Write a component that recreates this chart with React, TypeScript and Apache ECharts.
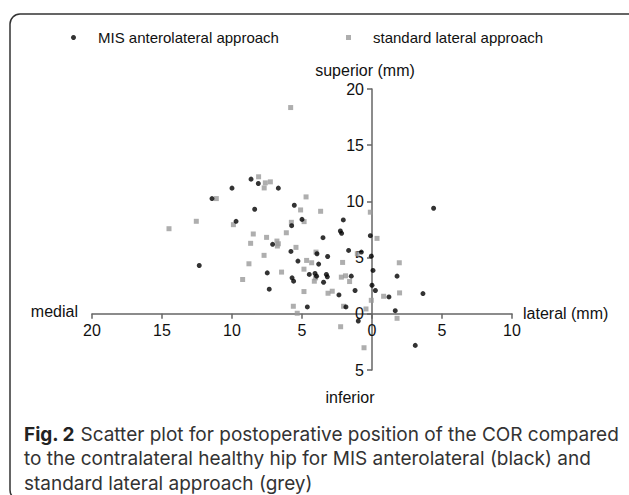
import React, { useEffect, useRef } from "react";
import * as echarts from "echarts";

// medial is negative x (shown as absolute value), inferior is negative y
const misPoints: [number, number][] = [
  [-8.64, 11.98], [-8.12, 11.59], [-10.0, 11.18], [-6.69, 11.18], [-11.43, 10.25],
  [-5.55, 9.66], [-8.38, 9.3], [-9.71, 8.23], [-5.74, 7.84], [-5.0, 8.4],
  [-2.05, 8.35], [-2.26, 7.37], [-2.17, 7.16], [-3.5, 6.77], [-7.1, 6.18],
  [-1.67, 5.64], [-5.79, 5.55], [-3.93, 5.34], [-3.17, 5.1], [-5.29, 4.69],
  [-3.81, 4.42], [-12.34, 4.3], [-7.48, 3.64], [-4.48, 3.5], [-4.07, 3.59],
  [-3.96, 3.35], [-3.26, 3.5], [-3.19, 3.29], [-3.46, 2.81], [-5.71, 3.2],
  [-5.6, 2.9], [-7.34, 2.19], [-2.36, 1.68], [-4.62, 0.61], [-1.86, 0.61],
  [-0.12, 6.95], [-0.76, 5.49], [-0.05, 5.13], [-1.48, 3.35], [0.07, 3.86],
  [1.79, 3.35], [0.0, 2.54], [0.24, 2.07], [-1.21, 2.07], [1.21, 1.5],
  [3.64, 1.8], [1.66, 0.28], [-0.98, -0.64], [3.09, -2.81], [4.4, 9.39],
];

const stdPoints: [number, number][] = [
  [-5.81, 18.35], [-8.1, 12.19], [-7.62, 11.65], [-7.26, 11.74], [-7.7, 11.2],
  [-11.12, 10.25], [-4.71, 10.4], [-5.1, 9.24], [-3.67, 9.12], [-12.55, 8.23],
  [-14.5, 7.57], [-9.9, 7.93], [-5.76, 8.14], [-4.85, 8.2], [-6.12, 7.21],
  [-8.48, 7.1], [-7.53, 6.8], [-6.79, 6.47], [-6.69, 6.23], [-6.76, 6.03],
  [-8.67, 6.27], [-5.43, 5.91], [-4.0, 5.49], [-7.71, 5.2], [-4.67, 4.75],
  [-4.31, 4.54], [-8.79, 4.45], [-2.1, 4.57], [-4.86, 3.97], [-6.46, 3.71],
  [-4.03, 3.2], [-4.12, 2.9], [-2.19, 3.26], [-1.89, 3.38], [-9.24, 3.05],
  [-4.86, 1.98], [-3.14, 1.83], [-2.84, 2.01], [-5.62, 0.67], [-5.34, 0.05],
  [-2.03, 0.67], [-0.12, 9.04], [0.36, 6.71], [-1.05, 5.34], [1.95, 4.54],
  [-1.6, 2.87], [0.83, 1.56], [1.97, 1.86], [-0.05, 1.2], [-0.43, 0.43],
  [1.79, -0.4], [-2.24, -1.15], [-0.57, -3.02],
];

const seriesNames = ["MIS anterolateral approach", "standard lateral approach"];
const xRange = [-20, 10];
const yRange = [-5, 20];
const tickStep = 5;
const captionLines = [
  "Scatter plot for postoperative position of the COR compared",
  "to the contralateral healthy hip for MIS anterolateral (black) and",
  "standard lateral approach (grey)",
];

const AXIS_COLOR = "#666666";
const LABEL_FONT = "Liberation Sans, Arial, sans-serif";
const CAPTION_FONT = "Inter, 'Open Sans', sans-serif";

const GRID = { left: 92, right: 117, top: 89, bottom: 125 };
const W = 629;
const H = 495;

export default function App() {
  const ref = useRef<HTMLDivElement>(null);

  useEffect(() => {
    if (!ref.current) return;
    const chart = echarts.init(ref.current, undefined, { renderer: "svg" });

    // place the axes through the origin by offsetting them from the grid edges
    const plotW = W - GRID.left - GRID.right;
    const plotH = H - GRID.top - GRID.bottom;
    const zeroX = GRID.left + ((0 - xRange[0]) / (xRange[1] - xRange[0])) * plotW;
    const zeroY = GRID.top + ((yRange[1] - 0) / (yRange[1] - yRange[0])) * plotH;
    const xAxisOffset = -(H - GRID.bottom - zeroY);
    const yAxisOffset = -(zeroX - GRID.left);

    const labelStyle = { fontFamily: LABEL_FONT, fontSize: 16, color: "#111" };

    const option: any = {
      animation: false,
      backgroundColor: "#ffffff",
      grid: { ...GRID, containLabel: false },
      legend: [
        {
          data: [{ name: seriesNames[0], icon: "circle" }],
          left: 71,
          top: 30,
          padding: 0,
          itemWidth: 5,
          itemHeight: 5,
          textStyle: { fontFamily: LABEL_FONT, fontSize: 15, color: "#111", padding: [0, 0, 0, 17] },
        },
        {
          data: [{ name: seriesNames[1], icon: "rect" }],
          left: 346,
          top: 30,
          padding: 0,
          itemWidth: 5,
          itemHeight: 5,
          textStyle: { fontFamily: LABEL_FONT, fontSize: 15, color: "#111", padding: [0, 0, 0, 17] },
        },
      ],
      xAxis: {
        type: "value",
        position: "bottom",
        offset: xAxisOffset,
        min: xRange[0],
        max: xRange[1],
        interval: tickStep,
        name: "lateral (mm)",
        nameLocation: "end",
        nameGap: 11,
        nameTextStyle: labelStyle,
        splitLine: { show: false },
        axisLine: { onZero: false, lineStyle: { color: AXIS_COLOR, width: 1.5 } },
        axisTick: { length: 5, lineStyle: { color: AXIS_COLOR, width: 1.5 } },
        axisLabel: {
          ...labelStyle,
          margin: 9,
          formatter: (v: number) => String(Math.abs(v)),
        },
      },
      yAxis: {
        type: "value",
        position: "left",
        offset: yAxisOffset,
        min: yRange[0],
        max: yRange[1],
        interval: tickStep,
        splitLine: { show: false },
        axisLine: { onZero: false, lineStyle: { color: AXIS_COLOR, width: 1.5 } },
        axisTick: { length: 5, lineStyle: { color: AXIS_COLOR, width: 1.5 } },
        axisLabel: {
          ...labelStyle,
          margin: 8,
          formatter: (v: number) => String(Math.abs(v)),
        },
      },
      series: [
        {
          name: seriesNames[0],
          type: "scatter",
          symbol: "circle",
          symbolSize: 5,
          itemStyle: { color: "#000000" },
          data: misPoints,
          z: 3,
        },
        {
          name: seriesNames[1],
          type: "scatter",
          symbol: "rect",
          symbolSize: 5,
          itemStyle: { color: "#9a9a9a" },
          data: stdPoints,
          z: 2,
        },
      ],
    };
    chart.setOption(option);

    const origin = chart.convertToPixel({ gridIndex: 0 }, [0, 0]) as number[];
    const leftEnd = chart.convertToPixel({ gridIndex: 0 }, [xRange[0], 0]) as number[];
    const topEnd = chart.convertToPixel({ gridIndex: 0 }, [0, yRange[1]]) as number[];
    const bottomEnd = chart.convertToPixel({ gridIndex: 0 }, [0, yRange[0]]) as number[];

    const captionStyle = {
      fontFamily: CAPTION_FONT,
      fontSize: 19,
      lineHeight: 24,
      fill: "#333",
      verticalAlign: "middle",
    };

    chart.setOption({
      graphic: [
        {
          type: "rect",
          shape: { x: 10, y: 14, width: 640, height: 486, r: 10 },
          style: { fill: "none", stroke: "#333", lineWidth: 1.5 },
          silent: true,
        },
        {
          type: "text",
          x: leftEnd[0] - 14,
          y: origin[1] - 2,
          style: {
            text: "medial",
            fontFamily: LABEL_FONT,
            fontSize: 16,
            fill: "#111",
            align: "right",
            verticalAlign: "middle",
          },
        },
        {
          type: "text",
          x: origin[0] - 7,
          y: topEnd[1] - 19,
          style: {
            text: "superior (mm)",
            fontFamily: LABEL_FONT,
            fontSize: 16,
            fill: "#111",
            align: "center",
            verticalAlign: "middle",
          },
        },
        {
          type: "text",
          x: origin[0] - 22,
          y: bottomEnd[1] + 27,
          style: {
            text: "inferior",
            fontFamily: LABEL_FONT,
            fontSize: 16,
            fill: "#111",
            align: "center",
            verticalAlign: "middle",
          },
        },
        {
          type: "text",
          x: 24,
          y: 434,
          style: {
            ...captionStyle,
            text: "{b|Fig. 2} " + captionLines[0],
            rich: {
              b: { fontFamily: CAPTION_FONT, fontSize: 19, lineHeight: 24, fontWeight: "bold", fill: "#222" },
            },
          },
        },
        {
          type: "text",
          x: 24,
          y: 458.5,
          style: { ...captionStyle, text: captionLines[1] },
        },
        {
          type: "text",
          x: 24,
          y: 483,
          style: { ...captionStyle, text: captionLines[2] },
        },
      ],
    });

    return () => chart.dispose();
  }, []);

  return (
    <div
      ref={ref}
      style={{ position: "fixed", left: 0, top: 0, width: W, height: H, background: "#fff" }}
    />
  );
}
